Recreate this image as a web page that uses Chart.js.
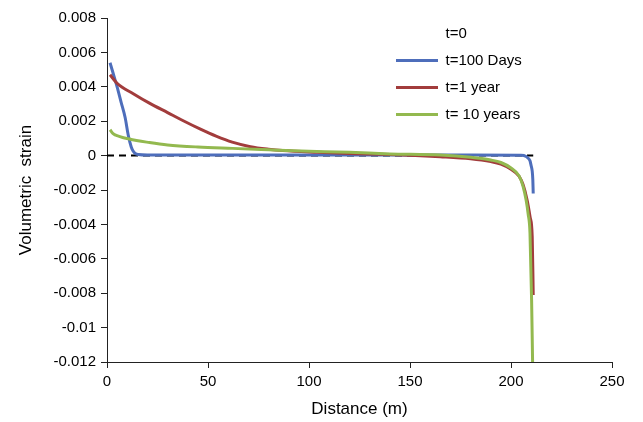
<!DOCTYPE html>
<html lang="en">
<head>
    <meta charset="UTF-8">
    <title>Volumetric strain vs distance</title>
    <script src="https://cdn.jsdelivr.net/npm/chart.js@4.4.1/dist/chart.umd.min.js"></script>
    <style>
        html, body { margin: 0; padding: 0; background: #fff; }
        #wrap { width: 643px; height: 422px; }
    </style>
</head>
<body>
    <div id="wrap"><canvas id="strainChart" width="643" height="422"></canvas></div>

    <script>
        // series
        const seriesNames = ['t=0', 't=100 Days', 't=1 year', 't= 10 years'];

        const zeroX = [0, 211];
        const zeroY = [0, 0];

        const daysX = [1.5, 3, 5, 7, 9, 10.5, 12, 13, 14, 15.5, 20, 60, 120, 180, 205, 207.5, 208.6, 209.4, 210, 210.5, 210.8, 211];
        const daysY = [0.0054, 0.0048, 0.0040, 0.0031, 0.0022, 0.0012, 0.0005, 0.00025, 0.00012, 0.00006, 0.00003, 0.00003, 0.00003, 0.00003, 0.00002, -0.00005, -0.00016, -0.0003, -0.0006, -0.0009, -0.0014, -0.0022];

        const yearX = [1.5, 5, 13, 21, 30, 38, 46, 54, 62, 71, 80, 87, 104, 120, 140, 165, 180, 190, 195, 200, 204, 206, 208, 209.5, 210.5, 211];
        const yearY = [0.0047, 0.0042, 0.0036, 0.00305, 0.0025, 0.00201, 0.00155, 0.00113, 0.00078, 0.00052, 0.00037, 0.00029, 0.00019, 0.00012, 0.00007, -0.00006, -0.00018, -0.00035, -0.0005, -0.0008, -0.0012, -0.0017, -0.0026, -0.0036, -0.0047, -0.0081];

        const tenX = [1.5, 3, 6, 11, 21, 30, 45, 62, 80, 96, 120, 140, 165, 180, 190, 195, 200, 204, 206, 207.5, 208.5, 209.4, 210.2, 210.7];
        const tenY = [0.0015, 0.00128, 0.00112, 0.00096, 0.00076, 0.00062, 0.0005, 0.00042, 0.00034, 0.00027, 0.00019, 0.0001, 0.00003, -0.0001, -0.00026, -0.0004, -0.00072, -0.00118, -0.0018, -0.0026, -0.0034, -0.0045, -0.0084, -0.0121];

        const colors = ['#000000', '#4E6EBB', '#A23C3C', '#93B94F'];

        function pts(xs, ys) {
            return xs.map((x, i) => ({ x: x, y: ys[i] }));
        }

        const fontFamily = "'Liberation Sans', Arial, sans-serif";

        // put the legend inside the plot, top right
        const moveLegend = {
            id: 'moveLegend',
            afterLayout(chart) {
                const lg = chart.legend;
                const w = lg.width, h = lg.height;
                lg.left = 384;
                lg.top = 14;
                lg.right = lg.left + w;
                lg.bottom = lg.top + h;
            }
        };

        const ctx = document.getElementById('strainChart').getContext('2d');
        new Chart(ctx, {
            type: 'scatter',
            data: {
                datasets: [
                    { label: seriesNames[0], data: pts(zeroX, zeroY), borderColor: colors[0], borderDash: [7, 5], borderWidth: 2, order: 3 },
                    { label: seriesNames[1], data: pts(daysX, daysY), borderColor: colors[1], borderWidth: 3, order: 2 },
                    { label: seriesNames[2], data: pts(yearX, yearY), borderColor: colors[2], borderWidth: 3, order: 1 },
                    { label: seriesNames[3], data: pts(tenX, tenY), borderColor: colors[3], borderWidth: 3, order: 0 }
                ]
            },
            options: {
                responsive: false,
                animation: false,
                showLine: true,
                elements: {
                    point: { radius: 0, hoverRadius: 0 },
                    line: { cubicInterpolationMode: 'monotone', fill: false }
                },
                layout: { padding: { top: 18, right: 31, left: 8, bottom: 2 } },
                plugins: {
                    tooltip: { enabled: false },
                    legend: {
                        position: 'chartArea',
                        align: 'start',
                        reverse: true,
                        labels: {
                            color: '#000',
                            font: { family: fontFamily, size: 15 },
                            boxWidth: 42,
                            boxHeight: 3,
                            padding: 12,
                            generateLabels(chart) {
                                const items = Chart.defaults.plugins.legend.labels.generateLabels(chart);
                                items.forEach(it => {
                                    const c = colors[it.datasetIndex];
                                    it.fillStyle = it.datasetIndex === 0 ? 'rgba(0,0,0,0)' : c;
                                    it.strokeStyle = it.fillStyle;
                                    it.lineWidth = 0;
                                    it.lineDash = [];
                                });
                                return items;
                            }
                        }
                    }
                },
                scales: {
                    x: {
                        type: 'linear',
                        min: 0,
                        max: 250,
                        ticks: { stepSize: 50, color: '#000', font: { family: fontFamily, size: 15 }, padding: 5, maxRotation: 0 },
                        grid: { drawOnChartArea: false, drawTicks: true, tickLength: 6, tickColor: '#222' },
                        border: { color: '#222', width: 1 },
                        title: { display: true, text: 'Distance (m)', color: '#000', font: { family: fontFamily, size: 17 }, padding: { top: 2, bottom: 0 } },
                        afterFit(scale) { scale.height = 422 - 362 - 2; }
                    },
                    y: {
                        min: -0.012,
                        max: 0.008,
                        ticks: {
                            stepSize: 0.002,
                            color: '#000',
                            font: { family: fontFamily, size: 15 },
                            padding: 5,
                            callback: v => String(+v.toFixed(3))
                        },
                        grid: { drawOnChartArea: false, drawTicks: true, tickLength: 6, tickColor: '#222' },
                        border: { color: '#222', width: 1 },
                        title: { display: true, text: 'Volumetric  strain', color: '#000', font: { family: fontFamily, size: 17 }, padding: { top: 8, bottom: 4 } },
                        afterFit(scale) { scale.width = 107 - 8; }
                    }
                }
            },
            plugins: [moveLegend]
        });
    </script>
</body>
</html>
